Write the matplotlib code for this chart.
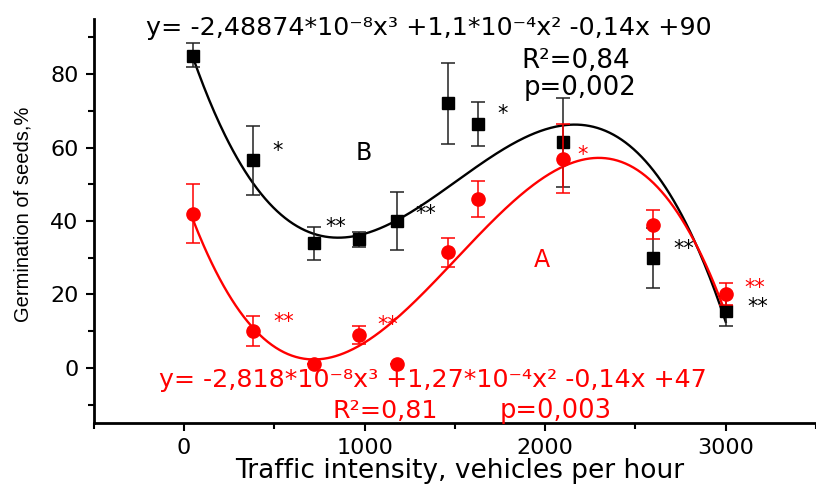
import numpy as np
import matplotlib
matplotlib.use("Agg")
import matplotlib.pyplot as plt

# ---- data ----
traffic = [50, 380, 720, 970, 1180, 1460, 1630, 2100, 2600, 3000]
germ_B = [85, 56.5, 34, 35, 40, 72, 66.5, 61.5, 30, 15.5]
err_B_up = [3.5, 9.5, 4.5, 2, 8, 11, 6, 12, 8, 4]
err_B_dn = [3, 9.5, 4.5, 2, 8, 11, 6, 12.2, 8.2, 4]
germ_A = [42, 10, 1, 9, 1, 31.5, 46, 57, 39, 20]
err_A_up = [8, 4, 0, 2.5, 0, 4, 5, 9.4, 4, 3]
err_A_dn = [8, 4, 0, 2.5, 0, 4, 5, 9.4, 4, 3]

xticks_major = [0, 1000, 2000, 3000]
xticks_minor = [-500, 500, 1500, 2500, 3500]
yticks_major = [0, 20, 40, 60, 80]
yticks_minor = [-10, 10, 30, 50, 70, 90]

eq_B = 'y= -2,48874*10\u207b\u2078x\u00b3 +1,1*10\u207b\u2074x\u00b2 -0,14x +90'
r2_B = 'R\u00b2=0,84'
p_B = 'p=0,002'
eq_A = 'y= -2,818*10\u207b\u2078x\u00b3 +1,27*10\u207b\u2074x\u00b2 -0,14x +47'
r2_A = 'R\u00b2=0,81'
p_A = 'p=0,003'

plt.rcParams['font.family'] = ['DejaVu Sans']
plt.rcParams['xtick.labelsize'] = 16
plt.rcParams['ytick.labelsize'] = 16

W, H = 816, 486
fig = plt.figure(figsize=(W/100, H/100), dpi=100)
ax = fig.add_axes([93.7/W, 63/H, (W-93.7)/W, (423-19)/H])

x = np.array(traffic, float)
xs = np.linspace(50, 3000, 400)
sigB = (np.array(err_B_up) + np.array(err_B_dn)) / 2
cB = np.polyfit(x, germ_B, 3, w=1/sigB)
cA = np.polyfit(x, germ_A, 3)

ax.plot(xs, np.polyval(cB, xs), color='black', lw=1.7, zorder=2)
ax.plot(xs, np.polyval(cA, xs), color='red', lw=1.7, zorder=2)

ax.errorbar(traffic, germ_B, yerr=[err_B_dn, err_B_up], fmt='s', color='black',
            ecolor='#222222', elinewidth=1.1, capsize=5, capthick=1.1, ms=8.5, zorder=3)
ax.errorbar(traffic, germ_A, yerr=[err_A_dn, err_A_up], fmt='o', color='red',
            ecolor='red', elinewidth=1.1, capsize=5, capthick=1.1, ms=9.5, zorder=4)

ax.set_xlim(-500, 3455)
ax.set_ylim(-15, 95)
ax.set_xticks(xticks_major)
ax.set_xticks(xticks_minor, minor=True)
ax.set_yticks(yticks_major)
ax.set_yticks(yticks_minor, minor=True)
ax.tick_params(which='both', direction='out', width=1.5)
ax.tick_params(which='major', length=6, pad=5, labelsize=16)
ax.tick_params(which='minor', length=4)
for s in ['top', 'right']:
    ax.spines[s].set_visible(False)
for s in ['left', 'bottom']:
    ax.spines[s].set_linewidth(2)

fig.text(460/W, 1-478/H, 'Traffic intensity, vehicles per hour', ha='center', va='baseline',
         fontsize=19)
fig.text(23/W, 1-214/H, 'Germination of seeds,%', rotation=90, ha='center', va='center',
         fontsize=14.5, family=['Liberation Sans'])

fig.text(428.5/W, 1-35/H, eq_B, ha='center', va='baseline', fontsize=18.3, color='black')
fig.text(575.5/W, 1-68/H, r2_B, ha='center', va='baseline', fontsize=18.8, color='black')
fig.text(580/W, 1-95/H, p_B, ha='center', va='baseline', fontsize=18.7, color='black')
fig.text(432.5/W, 1-387/H, eq_A, ha='center', va='baseline', fontsize=18.2, color='red')
fig.text(385/W, 1-418/H, r2_A, ha='center', va='baseline', fontsize=18.3, color='red')
fig.text(555.5/W, 1-418/H, p_A, ha='center', va='baseline', fontsize=18.5, color='red')

ax.text(996, 58.5, 'B', fontsize=17, ha='center', va='center', color='black')
ax.text(1982, 29.4, 'A', fontsize=17, ha='center', va='center', color='red')

stars = [(520, 59, '*', 'black'), (838, 38.5, '**', 'black'), (1340, 42, '**', 'black'),
         (1763, 69, '*', 'black'), (2206, 58, '*', 'red'), (2765, 32.5, '**', 'black'),
         (3160, 21.8, '**', 'red'), (3180, 16.5, '**', 'black'), (553, 12.5, '**', 'red'),
         (1128, 11.7, '**', 'red')]
for sx, sy, st, sc in stars:
    ax.text(sx, sy, st, fontsize=15, ha='center', va='center', color=sc)

fig.savefig('out.png', dpi=100)
